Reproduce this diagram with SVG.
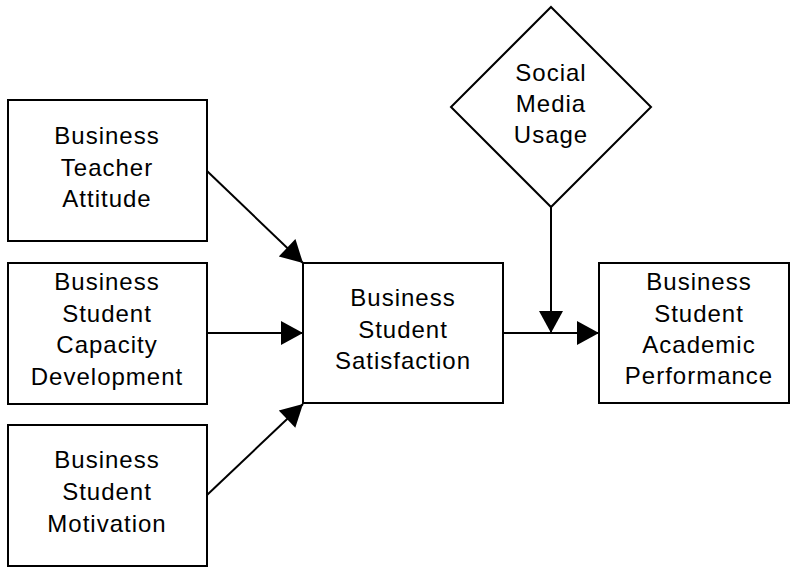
<svg xmlns="http://www.w3.org/2000/svg" width="790" height="567" viewBox="0 0 790 567">
  <style>
    .box { fill: #ffffff; stroke: #000000; stroke-width: 2; }
    .edge { fill: none; stroke: #000000; stroke-width: 2; }
    .label { font-family: "Liberation Sans", Arial, sans-serif; font-size: 24px; letter-spacing: 1px; fill: #000000; text-anchor: middle; }
  </style>
  <defs>
    <marker id="arrow" markerUnits="userSpaceOnUse" markerWidth="24" markerHeight="24" viewBox="0 0 22 24" refX="22" refY="12" orient="auto">
      <path d="M0,0 L22,12 L0,24 Z" fill="#000000"/>
    </marker>
  </defs>
  <rect width="790" height="567" fill="#ffffff"/>

  <g id="connectors">
    <line class="edge" x1="207" y1="171" x2="303" y2="263" marker-end="url(#arrow)"/>
    <line class="edge" x1="207" y1="333" x2="303" y2="333" marker-end="url(#arrow)"/>
    <line class="edge" x1="207" y1="495" x2="303" y2="404" marker-end="url(#arrow)"/>
    <line class="edge" x1="503" y1="333" x2="599" y2="333" marker-end="url(#arrow)"/>
    <line class="edge" x1="551" y1="207" x2="551" y2="333" marker-end="url(#arrow)"/>
  </g>

  <g id="teacher-attitude">
    <rect class="box" x="8" y="100" width="199" height="141"/>
    <text class="label" x="107" y="144">Business</text>
    <text class="label" x="107" y="176">Teacher</text>
    <text class="label" x="107" y="207">Attitude</text>
  </g>

  <g id="capacity-development">
    <rect class="box" x="8" y="263" width="199" height="141"/>
    <text class="label" x="107" y="290">Business</text>
    <text class="label" x="107" y="322">Student</text>
    <text class="label" x="107" y="353">Capacity</text>
    <text class="label" x="107" y="385">Development</text>
  </g>

  <g id="student-motivation">
    <rect class="box" x="8" y="425" width="199" height="141"/>
    <text class="label" x="107" y="468">Business</text>
    <text class="label" x="107" y="500">Student</text>
    <text class="label" x="107" y="532">Motivation</text>
  </g>

  <g id="student-satisfaction">
    <rect class="box" x="303" y="263" width="200" height="140"/>
    <text class="label" x="403" y="306">Business</text>
    <text class="label" x="403" y="338">Student</text>
    <text class="label" x="403" y="369">Satisfaction</text>
  </g>

  <g id="social-media-usage">
    <polygon class="box" points="551,7 651,107 551,207 451,107"/>
    <text class="label" x="551" y="81">Social</text>
    <text class="label" x="551" y="112">Media</text>
    <text class="label" x="551" y="143">Usage</text>
  </g>

  <g id="academic-performance">
    <rect class="box" x="599" y="263" width="190" height="140"/>
    <text class="label" x="699" y="290">Business</text>
    <text class="label" x="699" y="322">Student</text>
    <text class="label" x="699" y="353">Academic</text>
    <text class="label" x="699" y="384">Performance</text>
  </g>
</svg>
